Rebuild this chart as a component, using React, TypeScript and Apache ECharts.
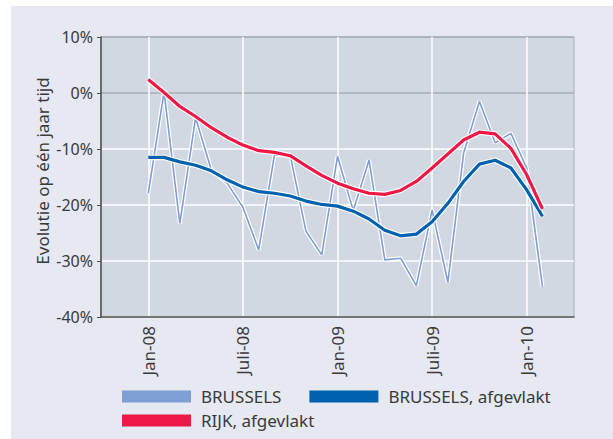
import React, { useEffect, useRef } from "react";
import * as echarts from "echarts";

// Months on the category axis (Okt-07 .. Apr-10)
const months = [
  "Okt-07", "Nov-07", "Dec-07",
  "Jan-08", "Feb-08", "Mrt-08", "Apr-08", "Mei-08", "Jun-08",
  "Juli-08", "Aug-08", "Sep-08", "Okt-08", "Nov-08", "Dec-08",
  "Jan-09", "Feb-09", "Mrt-09", "Apr-09", "Mei-09", "Jun-09",
  "Juli-09", "Aug-09", "Sep-09", "Okt-09", "Nov-09", "Dec-09",
  "Jan-10", "Feb-10", "Mrt-10", "Apr-10",
];
const shownLabels = ["Jan-08", "Juli-08", "Jan-09", "Juli-09", "Jan-10"];

// Values Jan-08 .. Feb-10 (percent)
const brussels = [
  -17.9, 0.2, -23.3, -4.4, -13.8, -16.1, -20.4, -28.0, -11.1, -11.1, -24.7, -28.9,
  -11.3, -21.0, -12.0, -29.8, -29.5, -34.4, -20.9, -33.8, -10.7, -1.5, -8.9, -7.2,
  -13.4, -34.6,
];
const brusselsSmooth = [
  -11.5, -11.5, -12.3, -12.9, -13.9, -15.5, -16.8, -17.6, -17.9, -18.4, -19.3, -19.9,
  -20.2, -21.1, -22.5, -24.5, -25.5, -25.2, -23.0, -19.7, -15.8, -12.7, -12.0, -13.4,
  -17.3, -22.0,
];
const rijkSmooth = [
  2.4, 0.1, -2.4, -4.2, -6.2, -7.9, -9.3, -10.3, -10.6, -11.2, -13.0, -14.7,
  -16.1, -17.1, -17.9, -18.1, -17.4, -15.8, -13.4, -10.9, -8.4, -7.0, -7.3, -9.9,
  -14.6, -20.7,
];
const yTicks = { min: -40, max: 10, interval: 10 };

const startOffset = months.indexOf("Jan-08");
const pad = (arr: number[]) => {
  const out: (number | null)[] = months.map(() => null);
  arr.forEach((v, i) => (out[startOffset + i] = v));
  return out;
};

const FONT = "'Noto Sans', sans-serif";
const TEXT = "#3a3a3a";
const AXIS = "#4d4d4d";

export default function App() {
  const ref = useRef<HTMLDivElement>(null);
  useEffect(() => {
    if (!ref.current) return;
    const chart = echarts.init(ref.current, undefined, { renderer: "svg" });
    const shown = (i: number) => shownLabels.includes(months[i]);
    const lineBase = {
      type: "line",
      symbol: "none",
      smooth: false,
      connectNulls: false,
    };
    chart.setOption({
      animation: false,
      textStyle: { fontFamily: FONT },
      grid: {
        left: 101,
        top: 37,
        right: 39,
        bottom: 122,
        show: true,
        backgroundColor: "#d1d8e2",
        borderColor: "#a8adb5",
        borderWidth: 1,
      },
      legend: [
        {
          left: 122,
          top: 388,
          padding: 0,
          itemWidth: 69,
          itemHeight: 12,
          itemGap: 28,
          icon: "rect",
          data: ["BRUSSELS", "BRUSSELS, afgevlakt"],
          textStyle: { fontSize: 17, color: TEXT, fontFamily: FONT, padding: [0, 0, 0, 5] },
        },
        {
          left: 122,
          top: 412,
          padding: 0,
          itemWidth: 69,
          itemHeight: 12,
          icon: "rect",
          data: ["RIJK, afgevlakt"],
          textStyle: { fontSize: 17, color: TEXT, fontFamily: FONT, padding: [0, 0, 0, 5] },
        },
      ],
      graphic: [
        {
          type: "text",
          x: 42,
          y: 171,
          rotation: Math.PI / 2,
          style: {
            text: "Evolutie op één jaar tijd",
            fontSize: 17,
            fontFamily: FONT,
            fill: TEXT,
            align: "center",
            verticalAlign: "middle",
          },
        },
      ],
      xAxis: {
        type: "category",
        data: months,
        boundaryGap: false,
        axisLine: { onZero: false, lineStyle: { color: AXIS, width: 1.5 } },
        axisTick: { show: false },
        axisLabel: {
          rotate: 90,
          interval: (i: number) => shown(i),
          margin: 9,
          fontSize: 17,
          color: TEXT,
          fontFamily: FONT,
        },
        splitLine: {
          show: true,
          interval: (i: number) => shown(i),
          lineStyle: { color: "#ffffff", width: 1.5 },
        },
      },
      yAxis: {
        type: "value",
        min: yTicks.min,
        max: yTicks.max,
        interval: yTicks.interval,
        axisLine: { show: true, lineStyle: { color: AXIS, width: 1.5 } },
        axisTick: { show: true, length: 4, lineStyle: { color: AXIS } },
        axisLabel: {
          formatter: (v: number) => `${v}%`,
          margin: 8,
          fontSize: 16,
          color: TEXT,
          fontFamily: FONT,
        },
        splitLine: {
          show: true,
          lineStyle: {
            color: ["#ffffff", "#ffffff", "#ffffff", "#ffffff", "#a8adb5", "#a8adb5"],
            width: 1.5,
          },
        },
      },
      series: [
        {
          ...lineBase,
          name: "BRUSSELS_outline",
          data: pad(brussels),
          silent: true,
          lineStyle: { color: "#ffffff", width: 4 },
          color: "#ffffff",
        },
        {
          ...lineBase,
          name: "BRUSSELS",
          data: pad(brussels),
          color: "#7f9ed3",
          lineStyle: { color: "#7f9ed3", width: 1.6 },
        },
        {
          ...lineBase,
          name: "BRUSSELS, afgevlakt_outline",
          data: pad(brusselsSmooth),
          silent: true,
          color: "#ffffff",
          lineStyle: { color: "#ffffff", width: 5.5, join: "round" },
        },
        {
          ...lineBase,
          name: "BRUSSELS, afgevlakt",
          data: pad(brusselsSmooth),
          color: "#0061ae",
          lineStyle: { color: "#0061ae", width: 3.2, join: "round" },
        },
        {
          ...lineBase,
          name: "RIJK_outline",
          data: pad(rijkSmooth),
          silent: true,
          color: "#ffffff",
          lineStyle: { color: "#ffffff", width: 5.5, join: "round" },
        },
        {
          ...lineBase,
          name: "RIJK, afgevlakt",
          data: pad(rijkSmooth),
          color: "#ee1846",
          lineStyle: { color: "#ee1846", width: 3.2, join: "round" },
        },
      ],
    });
    return () => chart.dispose();
  }, []);

  return (
    <div style={{ position: "fixed", left: 0, top: 0, width: 613, height: 439, background: "#ffffff" }}>
      <div
        style={{
          position: "absolute",
          left: 11,
          top: 6,
          width: 602,
          height: 433,
          background: "#e6e9f1",
        }}
      />
      <div ref={ref} style={{ position: "absolute", left: 0, top: 0, width: 613, height: 439 }} />
    </div>
  );
}
